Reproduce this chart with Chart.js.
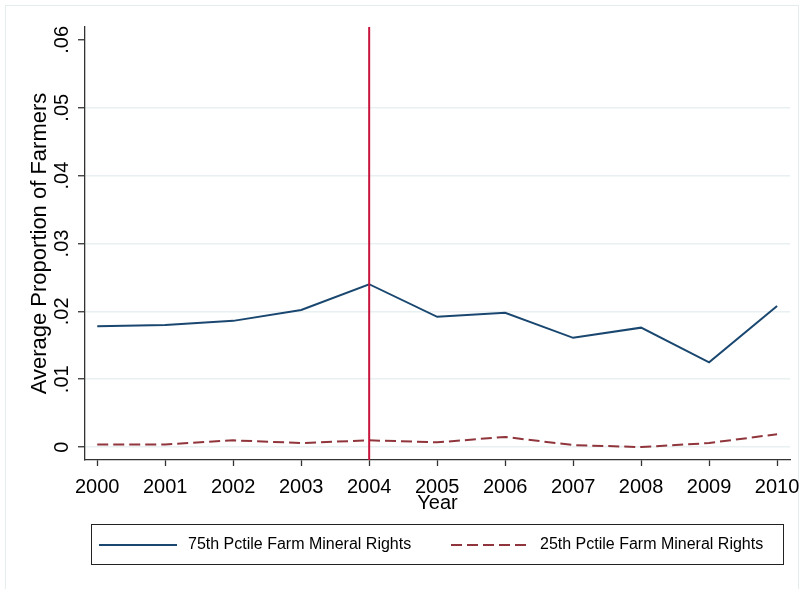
<!DOCTYPE html>
<html>
<head>
<meta charset="utf-8">
<script src="https://cdn.jsdelivr.net/npm/chart.js@4"></script>
<style>
  html, body { margin: 0; padding: 0; background: #fff; }
  #wrap { position: relative; width: 804px; height: 589px; }
</style>
</head>
<body>
<div id="wrap"><canvas id="chart" width="804" height="589"></canvas></div>
<script>
// data
const years = [2000, 2001, 2002, 2003, 2004, 2005, 2006, 2007, 2008, 2009, 2010];
const pct75 = [0.0178, 0.0180, 0.0186, 0.0202, 0.0240, 0.0192, 0.0198, 0.0161, 0.0176, 0.0125, 0.0208];
const pct25 = [0.0004, 0.0004, 0.0010, 0.0006, 0.0010, 0.0007, 0.0015, 0.0003, 0.0000, 0.0006, 0.0019];
const yTicks = [0, 0.01, 0.02, 0.03, 0.04, 0.05, 0.06];
const yTickLabels = ["0", ".01", ".02", ".03", ".04", ".05", ".06"];
const eventYear = 2004;
const seriesNames = ["75th Pctile Farm Mineral Rights", "25th Pctile Farm Mineral Rights"];

const FONT = "'Liberation Sans', Arial, sans-serif";
const axisColor = "#333";

function toPoints(vals) {
    return years.map((yr, i) => ({x: yr, y: vals[i]}));
}

// outer light frame
const framePlugin = {
    id: 'frame',
    beforeDraw(chart) {
        const ctx = chart.ctx;
        ctx.save();
        ctx.strokeStyle = "#e4ecee";
        ctx.lineWidth = 1;
        ctx.strokeRect(5.5, 5.5, 793, 620);
        ctx.restore();
    }
};

// vertical line at the event year
const eventLine = {
    id: 'eventLine',
    afterDatasetsDraw(chart) {
        const {ctx, chartArea, scales} = chart;
        const x = scales.x.getPixelForValue(eventYear);
        ctx.save();
        ctx.strokeStyle = "#c8143c";
        ctx.lineWidth = 2;
        ctx.beginPath();
        ctx.moveTo(x, chartArea.top);
        ctx.lineTo(x, chartArea.bottom);
        ctx.stroke();
        ctx.restore();
    }
};

// boxed legend below the plot
const boxLegend = {
    id: 'boxLegend',
    afterDraw(chart) {
        const ctx = chart.ctx;
        const starts = [99, 451];
        const yMid = 545;
        ctx.save();
        ctx.strokeStyle = "#222";
        ctx.lineWidth = 1;
        ctx.strokeRect(91.5, 524.5, 692, 40);
        ctx.font = "16px " + FONT;
        ctx.textBaseline = "middle";
        ctx.fillStyle = "#000";
        chart.data.datasets.forEach((ds, i) => {
            const x0 = starts[i];
            ctx.save();
            ctx.strokeStyle = ds.borderColor;
            ctx.lineWidth = 2;
            ctx.setLineDash(ds.borderDash || []);
            ctx.beginPath();
            ctx.moveTo(x0, yMid);
            ctx.lineTo(x0 + 78, yMid);
            ctx.stroke();
            ctx.restore();
            ctx.fillText(ds.label, x0 + 89, yMid);
        });
        ctx.restore();
    }
};

new Chart(document.getElementById("chart").getContext("2d"), {
    type: 'line',
    data: {
        datasets: [{
            label: seriesNames[0],
            data: toPoints(pct75),
            borderColor: "#1a476f",
            borderWidth: 2,
            pointRadius: 0,
            fill: false
        }, {
            label: seriesNames[1],
            data: toPoints(pct25),
            borderColor: "#90353b",
            borderWidth: 2,
            borderDash: [11, 5],
            pointRadius: 0,
            fill: false
        }]
    },
    options: {
        responsive: false,
        animation: false,
        layout: {
            padding: {top: 27, right: 14, bottom: 74, left: 0}
        },
        plugins: {
            legend: {display: false},
            tooltip: {enabled: false}
        },
        scales: {
            x: {
                type: 'linear',
                min: 1999.82,
                max: 2010.19,
                afterBuildTicks: (scale) => { scale.ticks = years.map(v => ({value: v})); },
                afterFit: (scale) => {
                    scale.height = 55;
                    scale.paddingLeft = 0;
                    scale.paddingRight = 0;
                },
                ticks: {
                    color: "#000",
                    padding: 9,
                    maxRotation: 0,
                    autoSkip: false,
                    font: {family: FONT, size: 20},
                    callback: (v) => String(v)
                },
                grid: {
                    drawOnChartArea: false,
                    tickLength: 6,
                    tickColor: axisColor,
                    tickWidth: 1.3
                },
                border: {color: axisColor, width: 1.3},
                title: {
                    display: true,
                    text: "Year",
                    color: "#000",
                    font: {family: FONT, size: 20},
                    padding: {top: 0, bottom: 0}
                }
            },
            y: {
                min: -0.0019,
                max: 0.0619,
                afterBuildTicks: (scale) => { scale.ticks = yTicks.map(v => ({value: v})); },
                afterFit: (scale) => {
                    scale.width = 85;
                    scale.paddingTop = 0;
                    scale.paddingBottom = 0;
                },
                ticks: {
                    color: "#000",
                    padding: 2,
                    minRotation: 90,
                    maxRotation: 90,
                    crossAlign: 'center',
                    autoSkip: false,
                    font: {family: FONT, size: 20},
                    callback: (v) => yTickLabels[yTicks.indexOf(v)]
                },
                grid: {
                    color: (c) => (c.tick && c.tick.value === 0.06) ? "rgba(0,0,0,0)" : "#e9f0f2",
                    lineWidth: 1.5,
                    tickLength: 7,
                    tickColor: axisColor,
                    tickWidth: 1.3
                },
                border: {color: axisColor, width: 1.3},
                title: {
                    display: true,
                    text: "Average Proportion of Farmers",
                    color: "#000",
                    font: {family: FONT, size: 22},
                    padding: {top: 27, bottom: 0}
                }
            }
        }
    },
    plugins: [framePlugin, eventLine, boxLegend]
});
</script>
</body>
</html>
